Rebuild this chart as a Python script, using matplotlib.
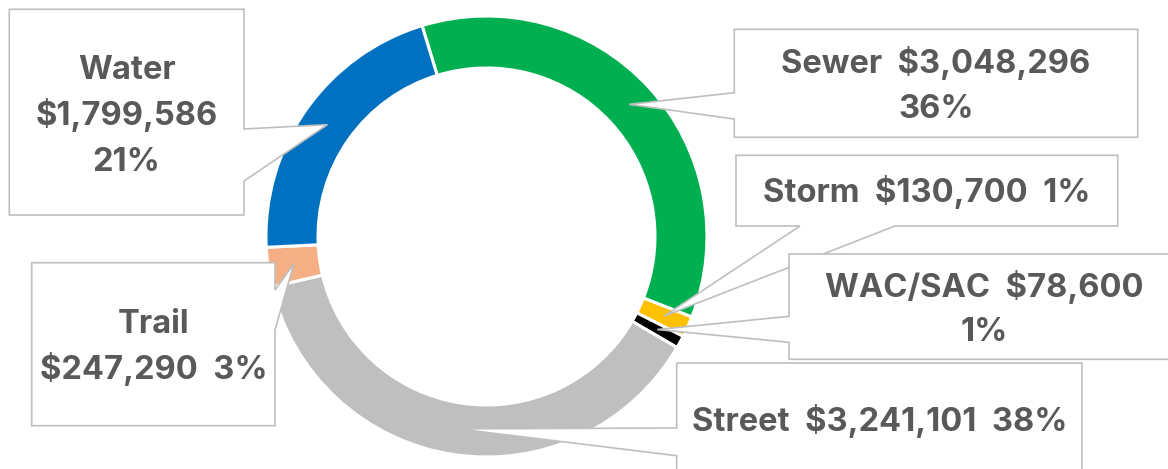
import matplotlib
matplotlib.use('Agg')
import matplotlib.pyplot as plt
import numpy as np
from matplotlib.patches import Polygon

# ---- data ----
categories = ['Sewer', 'Storm', 'WAC/SAC', 'Street', 'Trail', 'Water']
values = [3048296, 130700, 78600, 3241101, 247290, 1799586]
pct_labels = [36, 1, 1, 38, 3, 21]   # percentages as printed on the chart
colors = ['#00B050', '#FFC000', '#000000', '#BFBFBF', '#F4B084', '#0070C0']

# ---- layout (pixel coordinates, y downwards) ----
W, H = 1168, 469
CX, CY, R, RW = 486.5, 236.5, 220.5, 52
# box: (x0, y0, x1, y1), pointer side, pointer base (a, b), line baselines, line content
layout = {
    'Sewer':   dict(box=(734.3, 29.3, 1137.7, 137.3), side='left', base=(92.7, 119.0),
                    base_y=[72.7, 118.3], lines=[['name', 'money'], ['pct']]),
    'Storm':   dict(box=(736.0, 155.3, 1117.7, 226.0), side='bottom', base=(800.0, 895.0),
                    base_y=[202.3], lines=[['name', 'money', 'pct']]),
    'WAC/SAC': dict(box=(789.0, 254.0, 1179.0, 359.3), side='left', base=(316.3, 342.3),
                    base_y=[296.7, 341.3], lines=[['name', 'money'], ['pct']]),
    'Street':  dict(box=(676.7, 363.0, 1082.0, 480.0), side='left', base=(428.0, 455.7),
                    base_y=[430.7], lines=[['name', 'money', 'pct']]),
    'Trail':   dict(box=(31.7, 262.7, 275.0, 425.7), side='right', base=(290.0, 330.0),
                    base_y=[333.3, 379.0], lines=[['name'], ['money', 'pct']]),
    'Water':   dict(box=(9.3, 9.3, 244.0, 215.0), side='right', base=(129.0, 181.0),
                    base_y=[79.0, 125.5, 171.0], lines=[['name'], ['money'], ['pct']]),
}
draw_order = ['Sewer', 'Storm', 'WAC/SAC', 'Street', 'Trail', 'Water']

TEXT_COLOR = '#595959'
EDGE_COLOR = '#BFBFBF'
FONT = dict(family=['Inter', 'Lato', 'DejaVu Sans'], weight='bold', size=23.5)

fig = plt.figure(figsize=(W / 100, H / 100), dpi=100)
ax = fig.add_axes([0, 0, 1, 1])
wedges, _ = ax.pie(values, colors=colors, startangle=-107, counterclock=True,
                   center=(CX, CY), radius=R,
                   wedgeprops=dict(width=RW, edgecolor='white', linewidth=2.2))
ax.set_xlim(0, W)
ax.set_ylim(H, 0)
ax.set_aspect('equal')
ax.axis('off')


def callout_vertices(box, side, base, tip):
    x0, y0, x1, y1 = box
    a, b = base
    v = [(x0, y0), (x1, y0)]
    if side == 'right':
        v += [(x1, a), tip, (x1, b)]
    v += [(x1, y1)]
    if side == 'bottom':
        v += [(b, y1), tip, (a, y1)]
    v += [(x0, y1)]
    if side == 'left':
        v += [(x0, b), tip, (x0, a)]
    return v


for i, name in enumerate(draw_order):
    idx = categories.index(name)
    w = wedges[idx]
    th = np.deg2rad((w.theta1 + w.theta2) / 2.0)
    rm = R - RW / 2.0
    tip = (CX + rm * np.cos(th), CY + rm * np.sin(th))
    spec = layout[name]
    verts = callout_vertices(spec['box'], spec['side'], spec['base'], tip)
    poly = Polygon(verts, closed=True, facecolor='white', edgecolor=EDGE_COLOR,
                   linewidth=1.2, joinstyle='miter', zorder=10 + 2 * i)
    ax.add_patch(poly)
    parts = {'name': name,
             'money': '${:,}'.format(values[idx]),
             'pct': '{:d}%'.format(pct_labels[idx])}
    x0, y0, x1, y1 = spec['box']
    for line, by in zip(spec['lines'], spec['base_y']):
        txt = '  '.join(parts[p] for p in line)
        ax.text((x0 + x1) / 2.0, by, txt, ha='center', va='baseline',
                color=TEXT_COLOR, zorder=11 + 2 * i, **FONT)

fig.savefig('out.png', dpi=100, facecolor='white')
